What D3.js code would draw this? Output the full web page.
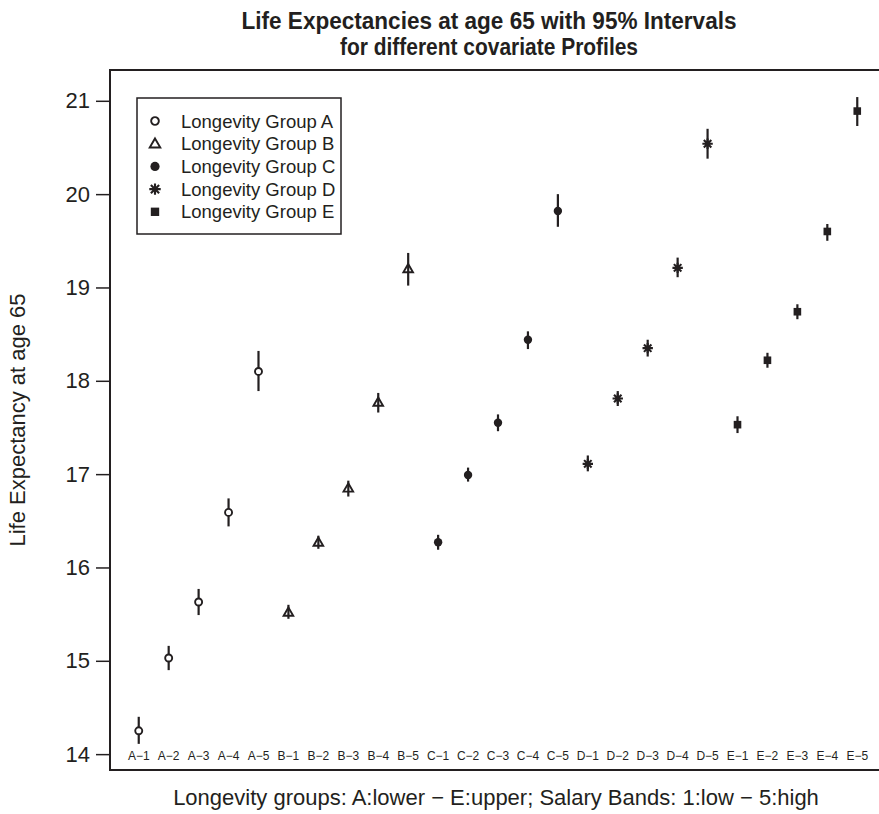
<!DOCTYPE html>
<html><head><meta charset="utf-8">
<script src="https://cdn.jsdelivr.net/npm/d3@7"></script>
<style>body{margin:0;background:#fff;overflow:hidden} svg{display:block}</style>
</head><body><svg id="c" width="879" height="814"></svg>
<script>
// ---- data ----
const categories = ["A-1","A-2","A-3","A-4","A-5","B-1","B-2","B-3","B-4","B-5",
  "C-1","C-2","C-3","C-4","C-5","D-1","D-2","D-3","D-4","D-5","E-1","E-2","E-3","E-4","E-5"];
const groups = ["A","B","C","D","E"];
const legendLabels = ["Longevity Group A","Longevity Group B","Longevity Group C","Longevity Group D","Longevity Group E"];
const estimates = [14.25,15.03,15.63,16.59,18.10, 15.52,16.27,16.85,17.77,19.20,
  16.27,16.99,17.55,18.44,19.82, 17.11,17.81,18.35,19.21,20.54, 17.53,18.22,18.74,19.60,20.89];
const lower = [14.11,14.90,15.49,16.44,17.89, 15.45,16.20,16.76,17.66,19.02,
  16.19,16.92,17.46,18.34,19.65, 17.03,17.73,18.26,19.11,20.38, 17.44,18.14,18.66,19.50,20.73];
const upper = [14.40,15.16,15.77,16.74,18.32, 15.60,16.34,16.93,17.87,19.37,
  16.35,17.07,17.64,18.53,20.00, 17.20,17.89,18.44,19.32,20.70, 17.62,18.30,18.82,19.68,21.04];
const yTicks = [14,15,16,17,18,19,20,21];
const titleLines = ["Life Expectancies at age 65 with 95% Intervals","for different covariate Profiles"];
const xLabel = "Longevity groups: A:lower \u2212 E:upper; Salary Bands: 1:low \u2212 5:high";
const yLabel = "Life Expectancy at age 65";

// ---- layout ----
const svg = d3.select("#c");
const L = 110, R = 886, T = 70, B = 770;
const ink = "#231f20";
const x = d3.scaleLinear().domain([0.04, 25.96]).range([L, R]);
const y = d3.scaleLinear().domain([13.83, 21.33]).range([B, T]);
const font = "'Liberation Sans', Arial, Helvetica, sans-serif";

const data = categories.map((c,i)=>({cat:c, idx:i+1, group:groups[Math.floor(i/5)], est:estimates[i], lo:lower[i], hi:upper[i]}));

function drawSymbol(g, grp, s) {
  if (grp === "A") {
    g.append("circle").attr("r", 3.5*s).attr("fill","#fff").attr("stroke",ink).attr("stroke-width",1.9);
  } else if (grp === "B") {
    const h = 4.8*s;
    g.append("path").attr("d", `M0,${-h} L${h*1.0},${h*0.72} L${-h*1.0},${h*0.72} Z`)
      .attr("fill","none").attr("stroke",ink).attr("stroke-width",1.9).attr("stroke-linejoin","miter");
  } else if (grp === "C") {
    g.append("circle").attr("r", 4.2*s).attr("fill",ink);
  } else if (grp === "D") {
    const a = 5.2*s, d = a*0.72;
    g.append("path").attr("d", `M${-a},0 L${a},0 M0,${-a} L0,${a} M${-d},${-d} L${d},${d} M${-d},${d} L${d},${-d}`)
      .attr("stroke",ink).attr("stroke-width",2.1).attr("fill","none");
  } else if (grp === "E") {
    const a = 3.8*s;
    g.append("rect").attr("x",-a).attr("y",-a).attr("width",2*a).attr("height",2*a).attr("fill",ink);
  }
}

// title
const titleWidths = [495, 298];
svg.selectAll("text.title").data(titleLines).join("text")
  .attr("class","title")
  .attr("x", 489).attr("y",(d,i)=>29 + i*26)
  .attr("text-anchor","middle")
  .attr("textLength",(d,i)=>titleWidths[i]).attr("lengthAdjust","spacingAndGlyphs")
  .style("font-family", font).style("font-weight","bold").style("font-size","23px")
  .attr("fill", ink)
  .text(d=>d);

// plot box
svg.append("rect").attr("x",L).attr("y",T).attr("width",R-L).attr("height",B-T)
  .attr("fill","none").attr("stroke",ink).attr("stroke-width",2);

// y axis
const yAxis = d3.axisLeft(y).tickValues(yTicks).tickSize(14).tickPadding(6).tickFormat(d3.format("d"));
const ga = svg.append("g").attr("transform",`translate(${L},0)`).call(yAxis);
ga.select(".domain").remove();
ga.selectAll(".tick line").attr("stroke",ink).attr("stroke-width",1.5);
ga.selectAll(".tick text").attr("fill",ink).style("font-family",font).style("font-size","22px");

// x tick labels (inside plot)
svg.selectAll("text.xt").data(data).join("text")
  .attr("class","xt")
  .attr("x", d=>x(d.idx)).attr("y", 760)
  .attr("text-anchor","middle")
  .style("font-family",font).style("font-size","12px").attr("fill",ink)
  .text(d=>d.cat.replace("-","\u2212"));

// axis labels
svg.append("text").attr("x",496).attr("y",805).attr("text-anchor","middle")
  .style("font-family",font).style("font-size","22px").attr("fill",ink).text(xLabel);
svg.append("text").attr("transform",`translate(25,${(T+B)/2}) rotate(-90)`).attr("text-anchor","middle")
  .style("font-family",font).style("font-size","22px").attr("fill",ink).text(yLabel);

// error bars
svg.selectAll("line.err").data(data).join("line")
  .attr("class","err")
  .attr("x1",d=>x(d.idx)).attr("x2",d=>x(d.idx))
  .attr("y1",d=>y(d.lo)).attr("y2",d=>y(d.hi))
  .attr("stroke",ink).attr("stroke-width",2.2);

// points
svg.selectAll("g.pt").data(data).join("g")
  .attr("class","pt")
  .attr("transform",d=>`translate(${x(d.idx)},${y(d.est)})`)
  .each(function(d){ drawSymbol(d3.select(this), d.group, 1); });

// legend
const lg = svg.append("g");
lg.append("rect").attr("x",137).attr("y",98).attr("width",204).attr("height",136)
  .attr("fill","#fff").attr("stroke",ink).attr("stroke-width",1.5);
groups.forEach((gname,i)=>{
  const yy = 121 + i*22.7;
  const sg = lg.append("g").attr("transform",`translate(155,${yy})`);
  drawSymbol(sg, gname, 1.1);
  lg.append("text").attr("x",181).attr("y",yy+6.5).style("font-family",font).style("font-size","18.5px")
    .attr("fill",ink).text(legendLabels[i]);
});
</script>
</body></html>
